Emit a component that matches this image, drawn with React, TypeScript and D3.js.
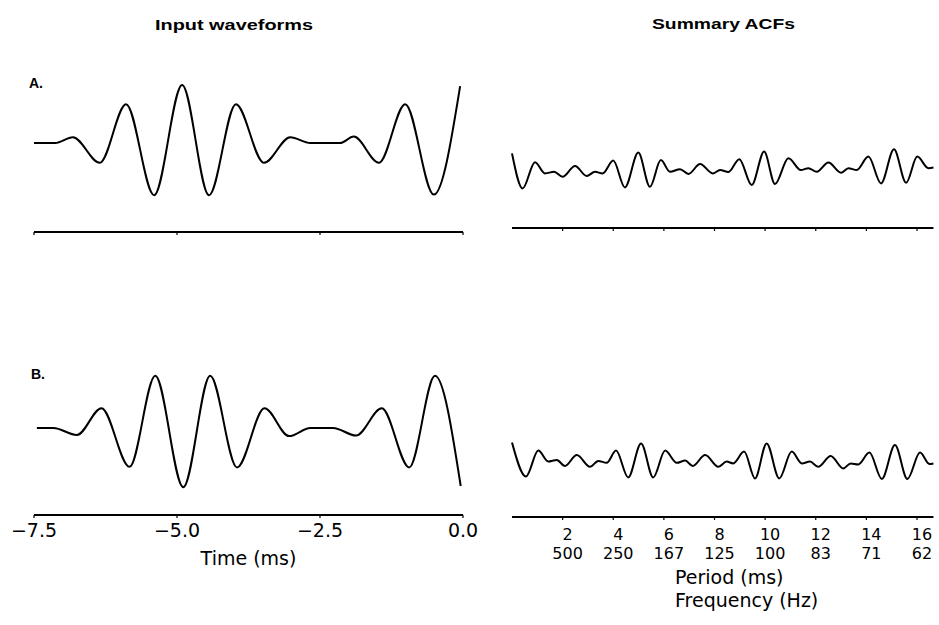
import * as d3 from 'd3';

const W = 939;
const H = 625;

// Input waveforms: time (ms) and normalised amplitude, read at extrema
const waveTimeA = [-7.5, -7.13, -6.82, -6.35, -5.89, -5.4, -4.91, -4.44, -3.97, -3.48, -3.02, -2.67, -2.15, -1.91, -1.47, -1.01, -0.51, -0.05];
const waveA = [0, 0, 0.1, -0.34, 0.67, -0.9, 1.0, -0.9, 0.67, -0.34, 0.1, 0, 0, 0.11, -0.34, 0.67, -0.89, 0.98];

const waveTimeB = [-7.45, -7.16, -6.75, -6.32, -5.83, -5.38, -4.89, -4.42, -3.95, -3.47, -3.04, -2.67, -2.27, -1.87, -1.42, -0.94, -0.49, -0.04];
const waveB = [0, 0, -0.12, 0.34, -0.67, 0.9, -1.02, 0.9, -0.68, 0.34, -0.14, 0, 0, -0.13, 0.34, -0.68, 0.9, -1.0];

// Summary ACFs: lag (ms) and normalised value
const acfLagA = [0, 0.42, 0.91, 1.3, 1.66, 2.0, 2.49, 2.95, 3.28, 3.58, 4.0, 4.46, 4.99, 5.45, 5.88, 6.24, 6.64, 6.97, 7.43, 7.93, 8.22, 8.55, 8.98, 9.47, 9.96, 10.39, 10.92, 11.41, 11.71, 12.04, 12.5, 13.0, 13.29, 13.62, 14.08, 14.58, 15.09, 15.57, 16.01, 16.45, 16.65];
const acfA = [0.88, -0.87, 0.44, -0.12, -0.04, -0.29, 0.25, -0.25, -0.04, -0.12, 0.52, -0.82, 0.92, -0.79, 0.55, -0.04, 0.09, -0.15, 0.35, -0.12, 0.05, -0.05, 0.59, -0.7, 0.97, -0.65, 0.64, 0.05, 0.14, -0.04, 0.42, -0.09, 0.14, 0.05, 0.72, -0.62, 1.09, -0.59, 0.72, 0.14, 0.17];

const acfLagB = [0, 0.55, 1.04, 1.43, 1.77, 2.09, 2.56, 3.08, 3.41, 3.74, 4.11, 4.59, 5.1, 5.58, 6.05, 6.51, 6.84, 7.14, 7.63, 8.15, 8.48, 8.74, 9.17, 9.6, 10.06, 10.56, 11.05, 11.45, 11.77, 12.1, 12.59, 13.09, 13.38, 13.68, 14.12, 14.61, 15.13, 15.62, 16.12, 16.49, 16.65];
const acfB = [0.97, -0.73, 0.57, 0.02, 0.1, -0.2, 0.35, -0.24, 0.05, -0.04, 0.57, -0.77, 0.93, -0.77, 0.57, -0.04, 0.07, -0.2, 0.35, -0.24, 0.02, -0.07, 0.52, -0.82, 0.93, -0.82, 0.52, -0.07, 0.02, -0.24, 0.3, -0.32, -0.07, -0.12, 0.47, -0.85, 0.85, -0.85, 0.47, -0.1, -0.07];

const timeTicks = [-7.5, -5.0, -2.5, 0.0];
const periodTicks = [2, 4, 6, 8, 10, 12, 14, 16];
const freqLabels = ['500', '250', '167', '125', '100', '83', '71', '62'];

const FONT = "'DejaVu Sans', sans-serif";
const BOLD = "'Liberation Sans', Arial, sans-serif";

const xTime = d3.scaleLinear().domain([-7.5, 0]).range([34, 463]);
const xLag = d3.scaleLinear().domain([0, 16]).range([512, 917]);

function trace(xs: number[], ys: number[], x: (v: number) => number, y: (v: number) => number) {
  const pts = xs.map((t, i) => [t, ys[i]] as [number, number]);
  return d3
    .line<[number, number]>()
    .x((d) => x(d[0]))
    .y((d) => y(d[1]))
    .curve(d3.curveMonotoneX)(pts) as string;
}

function TimeAxis({ y, labels }: { y: number; labels: boolean }) {
  return (
    <g>
      <line x1={xTime(-7.5)} x2={xTime(0)} y1={y} y2={y} stroke="#000" strokeWidth={2} />
      {timeTicks.map((t) => (
        <g key={t}>
          <line x1={xTime(t)} x2={xTime(t)} y1={y} y2={y + 3} stroke="#000" strokeWidth={1.2} />
          {labels && (
            <text x={xTime(t)} y={y + 22} textAnchor="middle" fontSize={19} fontFamily={FONT}>
              {d3.format('.1f')(t)}
            </text>
          )}
        </g>
      ))}
    </g>
  );
}

function LagAxis({ y, labels }: { y: number; labels: boolean }) {
  return (
    <g>
      <line x1={xLag(0)} x2={xLag(16.65)} y1={y} y2={y} stroke="#000" strokeWidth={2} />
      {periodTicks.map((p, i) => (
        <g key={p}>
          <line x1={xLag(p)} x2={xLag(p)} y1={y} y2={y + 3} stroke="#000" strokeWidth={1.2} />
          {labels && (
            // period on the first line, frequency under it
            <text fontSize={16} fontFamily={FONT} textAnchor="middle" y={y + 23}>
              <tspan x={xLag(p) + 5}>{p}</tspan>
              <tspan x={xLag(p) + 5} dy={19}>{freqLabels[i]}</tspan>
            </text>
          )}
        </g>
      ))}
    </g>
  );
}

export default function App() {
  const yWaveA = d3.scaleLinear().domain([-1, 1]).range([201, 85]);
  const yWaveB = d3.scaleLinear().domain([-1, 1]).range([486, 370]);
  const yAcfA = d3.scaleLinear().domain([-1, 1]).range([191, 151]);
  const yAcfB = d3.scaleLinear().domain([-1, 1]).range([482, 442]);

  return (
    <svg
      width={W}
      height={H}
      style={{ position: 'absolute', left: 0, top: 0, background: '#fff' }}
    >
      <rect width={W} height={H} fill="#fff" />

      {/* titles */}
      <text x={155} y={30} fontFamily={BOLD} fontWeight="bold" fontSize={15} textLength={158} lengthAdjust="spacingAndGlyphs">
        Input waveforms
      </text>
      <text x={652} y={29} fontFamily={BOLD} fontWeight="bold" fontSize={15} textLength={143} lengthAdjust="spacingAndGlyphs">
        Summary ACFs
      </text>

      <text x={29} y={88} fontFamily={BOLD} fontWeight="bold" fontSize={14}>A.</text>
      <text x={31} y={379} fontFamily={BOLD} fontWeight="bold" fontSize={14}>B.</text>

      {/* waveforms */}
      <path d={trace(waveTimeA, waveA, xTime, yWaveA)} fill="none" stroke="#000" strokeWidth={2} />
      <path d={trace(waveTimeB, waveB, xTime, yWaveB)} fill="none" stroke="#000" strokeWidth={2} />
      <TimeAxis y={232} labels={false} />
      <TimeAxis y={515} labels={true} />
      <text x={xTime(-3.75)} y={565} textAnchor="middle" fontSize={19} fontFamily={FONT}>
        Time (ms)
      </text>

      {/* summary ACFs */}
      <path d={trace(acfLagA, acfA, xLag, yAcfA)} fill="none" stroke="#000" strokeWidth={2} />
      <path d={trace(acfLagB, acfB, xLag, yAcfB)} fill="none" stroke="#000" strokeWidth={2} />
      <LagAxis y={228} labels={false} />
      <LagAxis y={517} labels={true} />
      <text fontSize={19} fontFamily={FONT} y={584}>
        <tspan x={675}>Period (ms)</tspan>
        <tspan x={675} dy={23}>Frequency (Hz)</tspan>
      </text>
    </svg>
  );
}
